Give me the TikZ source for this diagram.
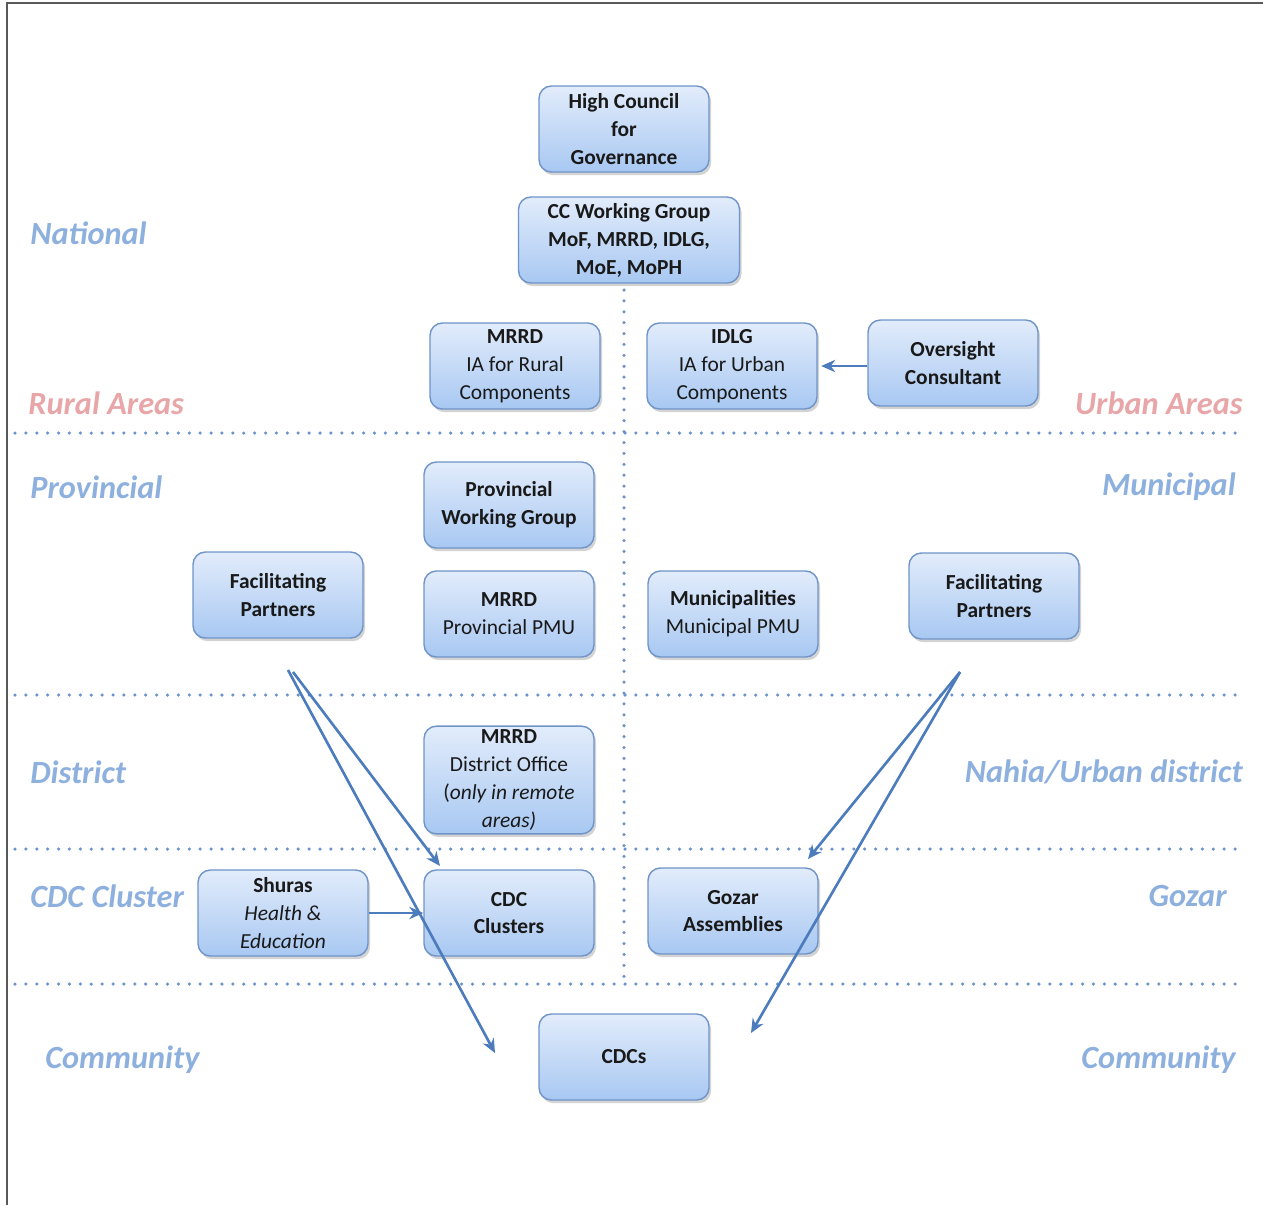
\documentclass[tikz,border=0pt]{standalone}
\usepackage{fontspec}
\setmainfont{Carlito}
\usetikzlibrary{shadows,arrows.meta,positioning}
\definecolor{boxtop}{HTML}{E2ECFB}
\definecolor{boxbot}{HTML}{A8C8F2}
\definecolor{boxline}{HTML}{6F94C8}
\definecolor{levelblue}{HTML}{8DB0DE}
\definecolor{areapink}{HTML}{E9A6A8}
\definecolor{arrowblue}{HTML}{4C7CBC}
\definecolor{dotblue}{HTML}{6B93C9}
\tikzset{
    orgbox/.style={draw=boxline,line width=0.8pt,rounded corners=7pt,top color=boxtop,bottom color=boxbot,
        minimum width=3.4cm,minimum height=1.72cm,align=center,inner sep=2pt,
        font=\fontsize{12.2}{15.9}\selectfont,text=black!90,
        drop shadow={shadow xshift=1.2pt,shadow yshift=-1.8pt,opacity=0.35}},
    level/.style={font=\fontsize{18.4}{22}\selectfont\bfseries\itshape,text=levelblue,inner sep=0pt},
    area/.style={level,text=areapink},
    divider/.style={dotblue,line width=2pt,line cap=round,dash pattern=on 0pt off 6.2pt},
    flow/.style={arrowblue,line width=1.5pt,-{Stealth[length=8pt,width=7pt]}},
}
\begin{document}
\begin{tikzpicture}[x=0.02cm,y=-0.02cm]
    \useasboundingbox (0,0) rectangle (1263,1205);
    \draw[black!65,line width=1.1pt] (7,1205) -- (7,3) -- (1263,3);
    % level dividers
    \foreach \y in {433,695,849,984}
        \draw[divider] (15,\y) -- (1245,\y);
    \draw[divider] (624,290) -- (624,984);
    % level names
    \node[level,anchor=west] (national) at (30,233) {National};
    \node[area,anchor=west] (rural) at (28,403) {Rural Areas};
    \node[area,anchor=east] (urban) at (1243,403) {Urban Areas};
    \node[level,anchor=west] (provincial) at (30,487) {Provincial};
    \node[level,anchor=east] (municipal) at (1236,487) {Municipal};
    \node[level,anchor=west] (district) at (30,772) {District};
    \node[level,anchor=east] (nahia) at (1243,772) {Nahia/Urban district};
    \node[level,anchor=west] (cluster) at (30,896) {CDC Cluster};
    \node[level,anchor=east] (gozar) at (1227,896) {Gozar};
    \node[level,anchor=west] (commleft) at (45,1060) {Community};
    \node[level,anchor=east] (commright) at (1236,1060) {Community};
    % boxes
    \node[orgbox] (council) at (624,129) {\textbf{High Council}\\\textbf{for}\\\textbf{Governance}};
    \node[orgbox,minimum width=4.42cm] (ccgroup) at (629,240) {\textbf{CC Working Group}\\\textbf{MoF, MRRD, IDLG,}\\\textbf{MoE, MoPH}};
    \node[orgbox] (mrrdia) at (515,366) {\textbf{MRRD}\\IA for Rural\\Components};
    \node[orgbox] (idlgia) at (732,366) {\textbf{IDLG}\\IA for Urban\\Components};
    \node[orgbox] (oversight) at (953,363) {\textbf{Oversight}\\\textbf{Consultant}};
    \node[orgbox] (provgroup) at (509,505) {\textbf{Provincial}\\\textbf{Working Group}};
    \node[orgbox] (fpleft) at (278,595) {\textbf{Facilitating}\\\textbf{Partners}};
    \node[orgbox] (provpmu) at (509,614) {\textbf{MRRD}\\Provincial PMU};
    \node[orgbox] (munipmu) at (733,614) {\textbf{Municipalities}\\Municipal PMU};
    \node[orgbox] (fpright) at (994,596) {\textbf{Facilitating}\\\textbf{Partners}};
    \node[orgbox,minimum height=2.1cm] (distoffice) at (509,780) {\textbf{MRRD}\\District Office\\(\textit{only in remote}\\\textit{areas)}};
    \node[orgbox] (shuras) at (283,913) {\textbf{Shuras}\\\textit{Health \&}\\\textit{Education}};
    \node[orgbox] (cdcclusters) at (509,913) {\textbf{CDC}\\\textbf{Clusters}};
    \node[orgbox] (gozarass) at (733,911) {\textbf{Gozar}\\\textbf{Assemblies}};
    \node[orgbox] (cdcs) at (624,1057) {\textbf{CDCs}};
    % free arrow ends
    \coordinate (fpl a) at (288,670);
    \coordinate (fpl b) at (293,672);
    \coordinate (fpl cl) at (440,866);
    \coordinate (fpl cdc) at (495,1053);
    \coordinate (fpr a) at (960,672);
    \coordinate (fpr gz) at (808,859);
    \coordinate (fpr cdc) at (751,1033);
    % arrows
    \draw[flow] (oversight.west |- idlgia.east) -- ([xshift=2pt]idlgia.east);
    \draw[flow] (shuras.east) -- (cdcclusters.west);
    \draw[flow] (fpl b) -- (fpl cl);
    \draw[flow] (fpl a) -- (fpl cdc);
    \draw[flow] (fpr a) -- (fpr gz);
    \draw[flow] (fpr a) -- (fpr cdc);
\end{tikzpicture}
\end{document}
